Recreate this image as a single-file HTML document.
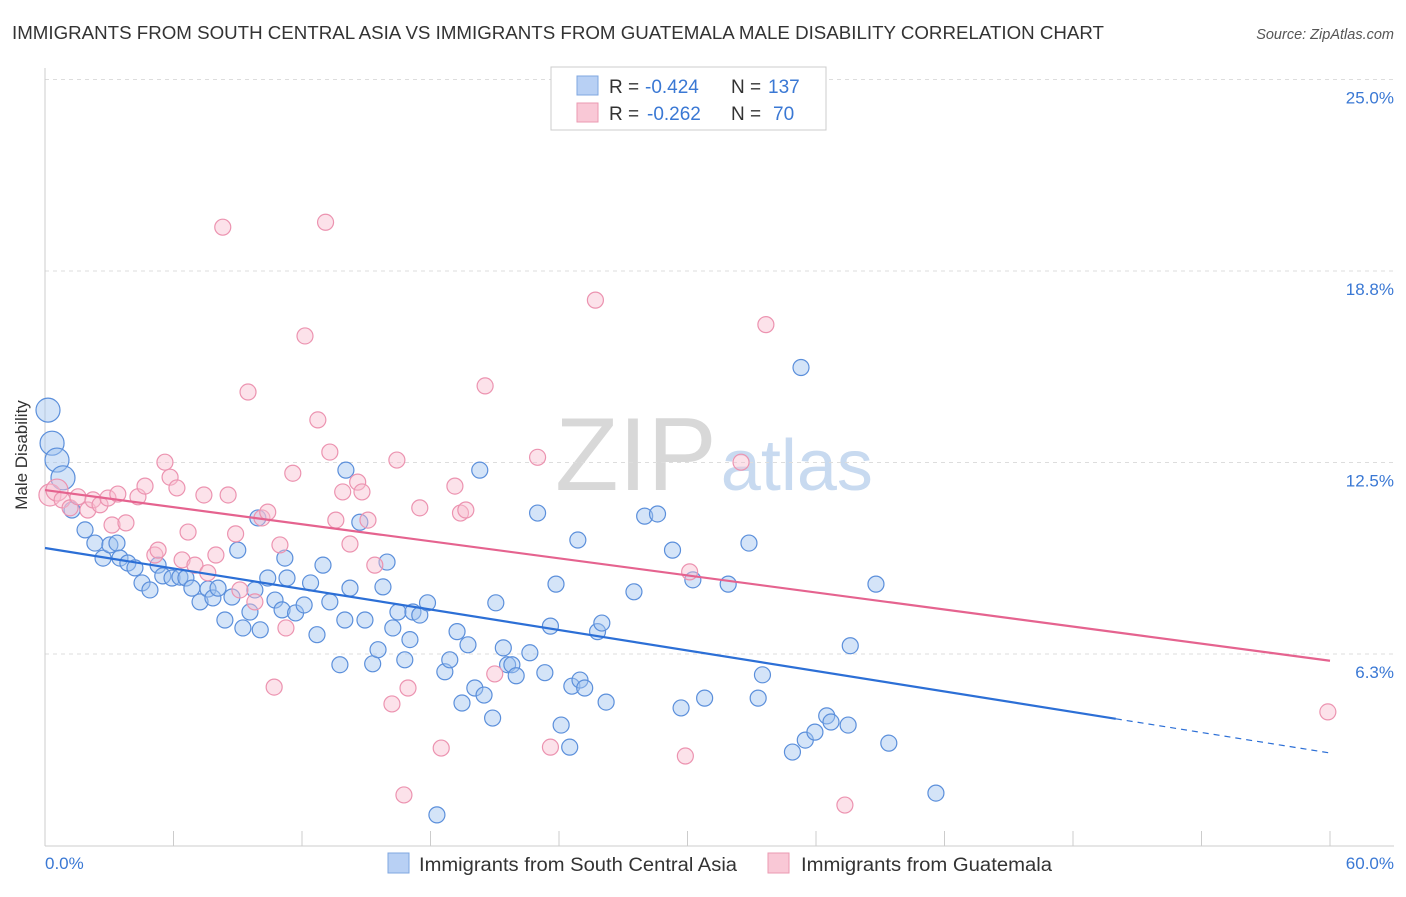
<!DOCTYPE html>
<html><head><meta charset="utf-8"><style>
body{margin:0;background:#fff;font-family:"Liberation Sans",sans-serif}
svg text{font-family:"Liberation Sans",sans-serif}
</style></head><body>
<svg width="1406" height="892">
<text x="12" y="39" font-size="18" textLength="1092" lengthAdjust="spacingAndGlyphs" fill="#333">IMMIGRANTS FROM SOUTH CENTRAL ASIA VS IMMIGRANTS FROM GUATEMALA MALE DISABILITY CORRELATION CHART</text>
<text x="1394" y="39" font-size="14.5" fill="#555" text-anchor="end" font-style="italic">Source: ZipAtlas.com</text>
<text x="555" y="490" font-size="104" fill="#d8d8d8" font-family="Liberation Serif">ZIP<tspan fill="#c8daf0" font-family="Liberation Sans" font-size="72" dx="4">atlas</tspan></text>
<g id="grid"></g><g id="axes"></g><g id="pts"></g><g id="lines"></g>
<text x="27" y="455" font-size="17" fill="#333" transform="rotate(-90 27 455)" text-anchor="middle">Male Disability</text>
<text x="45" y="869" font-size="17" fill="#3a78d4">0.0%</text>
<text x="1394" y="869" font-size="17" fill="#3a78d4" text-anchor="end">60.0%</text>
<g>
<rect x="551" y="67" width="275" height="63" fill="#fff" stroke="#ccc"/>
<rect x="577" y="76" width="21" height="19" fill="#b8d0f4" stroke="#7fa7e0"/>
<rect x="577" y="103" width="21" height="19" fill="#f9c8d6" stroke="#eb9ab2"/>
<text x="609" y="93" font-size="19" fill="#333">R =</text>
<text x="645" y="93" font-size="19" fill="#3a78d4">-0.424</text>
<text x="731" y="93" font-size="19" fill="#333">N =</text>
<text x="768" y="93" font-size="19" fill="#3a78d4">137</text>
<text x="609" y="120" font-size="19" fill="#333">R =</text>
<text x="647" y="120" font-size="19" fill="#3a78d4">-0.262</text>
<text x="731" y="120" font-size="19" fill="#333">N =</text>
<text x="773" y="120" font-size="19" fill="#3a78d4">70</text>
</g>
<g>
<rect x="388" y="853" width="21" height="20" fill="#b8d0f4" stroke="#7fa7e0"/>
<text x="419" y="871" font-size="19" textLength="318" lengthAdjust="spacingAndGlyphs" fill="#333">Immigrants from South Central Asia</text>
<rect x="768" y="853" width="21" height="20" fill="#f9c8d6" stroke="#eb9ab2"/>
<text x="801" y="871" font-size="19" textLength="251" lengthAdjust="spacingAndGlyphs" fill="#333">Immigrants from Guatemala</text>
</g>
</svg>
<script>
const yTicks=[6.25,12.5,18.75,25];
const yTickLabels=["6.3%","12.5%","18.8%","25.0%"];
const xTicks=[0,6,12,18,24,30,36,42,48,54,60];
const blueX=[0.14,0.33,0.56,0.84,1.26,1.87,2.33,2.71,3.03,3.36,3.5,3.87,4.2,4.53,4.9,5.28,5.5,5.93,6.3,6.58,6.86,7.24,7.61,7.84,8.08,8.4,8.73,9.0,9.24,9.57,9.8,10.05,9.94,10.4,10.74,11.07,11.3,11.2,11.7,12.1,12.4,12.7,12.98,13.3,13.77,14.0,14.24,14.7,14.05,14.94,15.3,15.55,15.78,15.97,16.24,16.48,16.8,17.04,17.18,17.5,17.86,18.3,18.67,18.9,19.24,19.47,19.75,20.07,20.3,20.5,20.9,21.05,21.4,21.6,21.8,22.0,22.64,23.0,23.34,23.6,23.86,24.1,24.5,24.6,24.98,25.2,24.88,25.8,26.0,26.2,27.5,28.0,28.6,29.3,29.7,30.25,30.8,31.9,32.87,33.3,33.5,34.9,35.3,35.5,35.95,36.5,36.7,37.5,37.6,38.8,39.4,41.6];
const blueY=[14.21,13.13,12.58,12.0,10.95,10.3,9.87,9.38,9.81,9.87,9.38,9.22,9.06,8.57,8.34,9.15,8.8,8.73,8.76,8.73,8.4,7.95,8.37,8.08,8.4,7.36,8.11,9.64,7.1,7.62,8.34,7.04,10.69,8.73,8.01,7.69,8.73,9.38,7.59,7.85,8.57,6.88,9.15,7.95,5.9,7.36,8.4,10.55,12.25,7.36,5.93,6.39,8.44,9.25,7.1,7.62,6.06,6.72,7.62,7.52,7.92,1.0,5.67,6.06,6.98,4.65,6.55,5.14,12.25,4.91,4.16,7.92,6.45,5.9,5.9,5.54,6.29,10.85,5.64,7.16,8.53,3.93,3.21,5.2,5.4,5.14,9.97,6.98,7.26,4.68,8.28,10.75,10.82,9.64,4.49,8.67,4.81,8.53,9.87,4.81,5.57,3.05,15.6,3.44,3.7,4.23,4.03,3.93,6.52,8.53,3.34,1.71];
const pinkX=[0.23,0.56,0.8,1.17,1.54,2.0,2.24,2.57,2.94,3.13,3.4,3.78,4.34,4.67,5.13,5.28,5.6,5.84,6.16,6.4,6.68,7.0,7.42,7.6,7.98,8.3,8.55,8.9,9.1,9.48,9.8,10.13,10.4,10.7,10.97,11.25,11.57,12.14,12.74,13.1,13.3,13.58,13.9,14.24,14.6,14.8,15.08,15.4,16.2,16.43,16.76,16.95,17.5,18.5,19.14,19.4,19.65,20.55,21.0,23.0,23.6,25.7,29.9,30.1,32.5,33.66,37.35,59.9];
const pinkY=[11.44,11.6,11.28,11.02,11.38,10.95,11.28,11.12,11.34,10.46,11.47,10.53,11.38,11.73,9.48,9.64,12.51,12.02,11.67,9.32,10.23,9.15,11.44,8.9,9.48,20.18,11.44,10.17,8.34,14.8,7.95,10.69,10.88,5.17,9.81,7.1,12.15,16.63,13.89,20.34,12.84,10.62,11.54,9.84,11.86,11.54,10.62,9.15,4.62,12.58,1.65,5.14,11.02,3.18,11.73,10.85,10.95,15.0,5.6,12.67,3.21,17.8,2.92,8.93,12.51,17.0,1.32,4.36];
const blueTrend=[9.71,3.02];
const pinkTrend=[11.6,6.03];
const X=v=>45+v*(1285/60);
const Y=v=>845.5-v*30.64;
const NS="http://www.w3.org/2000/svg";
function mk(tag,attrs,parent){const e=document.createElementNS(NS,tag);for(const k in attrs)e.setAttribute(k,attrs[k]);document.getElementById(parent).appendChild(e);return e;}
yTicks.forEach((t,i)=>{
 const l=mk('line',{x1:45,x2:1394,y1:Y(t),y2:Y(t),stroke:'#ddd','stroke-dasharray':'4 4'},'grid');
 
 
 const tx=mk('text',{x:1394,y:Y(t)+24,'font-size':17,fill:'#3a78d4','text-anchor':'end'},'grid');
 tx.textContent=yTickLabels[i];
 
 
});
const ya=mk('line',{x1:45,x2:45,y1:68,y2:846,stroke:'#ccc'},'axes');


const xa=mk('line',{x1:45,x2:1394,y1:846,y2:846,stroke:'#ccc'},'axes');


xTicks.forEach(t=>{
 const l=mk('line',{x1:X(t),x2:X(t),y1:831,y2:846,stroke:'#ccc'},'axes');
 
 
});
blueX.forEach((x,i)=>{
 const c=mk('circle',{cx:X(x),cy:Y(blueY[i]),r:i<4?12:8,fill:'rgba(160,195,240,0.45)',stroke:'#5b8fdb','stroke-width':1.2},'pts');
 
 
});
pinkX.forEach((x,i)=>{
 const c=mk('circle',{cx:X(x),cy:Y(pinkY[i]),r:i<2?11:8,fill:'rgba(248,190,208,0.45)',stroke:'#ec93b0','stroke-width':1.2},'pts');
 
 
});
const bAt=v=>blueTrend[0]+(blueTrend[1]-blueTrend[0])*v/60;
const bl=mk('line',{x1:X(0),y1:Y(bAt(0)),x2:X(50),y2:Y(bAt(50)),stroke:'#2c6fd6','stroke-width':2.2},'lines');


const bd=mk('line',{x1:X(50),y1:Y(bAt(50)),x2:X(60),y2:Y(bAt(60)),stroke:'#2c6fd6','stroke-width':1.2,'stroke-dasharray':'6 5'},'lines');


const pl=mk('line',{x1:X(0),y1:Y(pinkTrend[0]),x2:X(60),y2:Y(pinkTrend[1]),stroke:'#e5638f','stroke-width':2.2},'lines');


</script>
</body></html>
